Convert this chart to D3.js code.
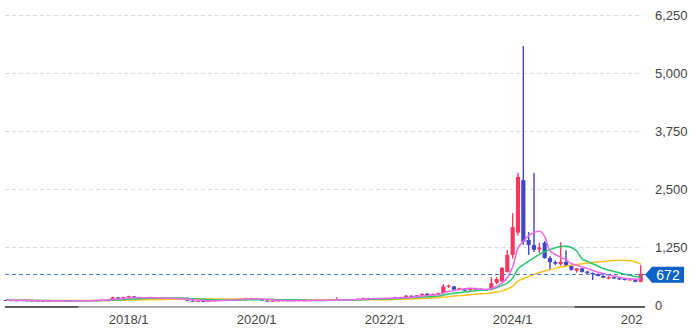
<!DOCTYPE html>
<html>
<head>
<meta charset="utf-8">
<script src="https://cdn.jsdelivr.net/npm/d3@7"></script>
<style>
  body { margin: 0; background: #fff; }
  text { font-family: Arial, "Liberation Sans", sans-serif; }
</style>
</head>
<body>
<svg id="chart" width="697" height="332"></svg>
<script>
// --- Data (monthly candles, 2016/2 .. 2026/1) ---
const months = d3.timeMonth.range(new Date(2016, 1, 1), new Date(2026, 1, 1));

const open = [
  108, 105, 100, 98, 102, 96, 92, 90, 88, 86, 88,
  90, 88, 90, 92, 94, 96, 105, 110, 115, 122, 162, 138,
  168, 185, 150, 145, 150, 155, 150, 145, 140, 135, 130, 124,
  95, 80, 85, 82, 90, 100, 110, 115, 120, 125, 140, 150,
  145, 120, 95, 80, 90, 95, 100, 98, 102, 100, 98, 100,
  105, 105, 108, 110, 115, 110, 112, 120, 135, 150, 145, 150,
  138, 140, 150, 172, 165, 200, 180, 210, 245, 215, 240, 255,
  395, 400, 330, 355, 315, 340, 350, 335, 330, 480, 510, 710,
  1080, 1560, 2690, 1400, 1290, 1200, 1340, 1010, 925, 880, 930, 850,
  740, 790, 720, 690, 670, 625, 570, 600, 575, 560, 540, 560,
  500
];
const high = [
  112, 108, 104, 106, 104, 98, 94, 92, 90, 92, 94,
  93, 94, 95, 97, 99, 110, 115, 120, 126, 178, 168, 176,
  200, 188, 158, 160, 162, 158, 153, 148, 145, 138, 134, 126,
  98, 90, 88, 95, 104, 114, 120, 124, 130, 146, 158, 156,
  148, 124, 98, 95, 100, 106, 104, 106, 105, 103, 104, 108,
  110, 112, 114, 165, 118, 116, 125, 140, 158, 155, 156, 153,
  146, 155, 178, 176, 215, 205, 216, 250, 250, 246, 262, 450,
  440, 410, 375, 365, 370, 365, 358, 345, 600, 600, 820, 1180,
  1980, 2845, 5580, 1570, 2845, 1340, 1380, 1050, 960, 1350, 1180, 870,
  800, 800, 740, 700, 680, 640, 620, 610, 590, 575, 560, 570,
  860
];
const low = [
  100, 96, 95, 96, 92, 90, 88, 86, 84, 84, 86,
  86, 86, 88, 89, 91, 94, 102, 106, 112, 118, 128, 132,
  160, 140, 138, 142, 146, 145, 140, 136, 132, 126, 120, 88,
  72, 78, 78, 80, 88, 96, 106, 110, 116, 122, 136, 140,
  115, 90, 70, 78, 88, 92, 94, 96, 97, 95, 96, 98,
  101, 103, 105, 108, 106, 107, 110, 118, 132, 140, 142, 136,
  132, 136, 146, 160, 160, 175, 176, 205, 210, 210, 232, 248,
  370, 320, 320, 300, 305, 330, 325, 315, 320, 450, 490, 700,
  1000, 1500, 1300, 1080, 1140, 1120, 1000, 760, 860, 850, 820, 740,
  700, 700, 660, 540, 620, 580, 555, 560, 540, 530, 530, 490,
  490
];
const close = [
  105, 100, 98, 102, 96, 92, 90, 88, 86, 88, 90,
  88, 90, 92, 94, 96, 105, 110, 115, 120, 165, 135, 170,
  190, 150, 145, 150, 155, 150, 145, 140, 135, 130, 125, 95,
  80, 85, 82, 90, 100, 110, 115, 120, 125, 140, 150, 145,
  120, 95, 80, 90, 95, 100, 98, 102, 100, 98, 100, 105,
  105, 108, 110, 115, 110, 112, 120, 135, 150, 145, 150, 140,
  140, 150, 172, 165, 200, 180, 210, 240, 215, 240, 255, 400,
  420, 330, 360, 310, 360, 350, 330, 320, 470, 560, 800, 1080,
  1680, 2760, 1360, 1290, 1190, 1240, 1010, 925, 890, 930, 850, 760,
  790, 715, 690, 665, 625, 590, 600, 570, 550, 540, 550, 500,
  672
];

// moving averages (6 / 12 / 24 month)
const ma6 = [
  104, 103, 102, 101, 100, 99, 96, 94, 92, 90, 89,
  88, 88, 89, 90, 92, 94, 98, 102, 107, 119, 125, 136,
  149, 155, 159, 157, 160, 157, 149, 148, 146, 143, 138, 128,
  118, 108, 100, 93, 89, 91, 97, 103, 110, 118, 127, 133,
  133, 129, 122, 113, 104, 97, 93, 94, 98, 99, 100, 101,
  102, 103, 104, 107, 109, 110, 113, 117, 124, 129, 135, 140,
  143, 146, 150, 153, 161, 168, 180, 195, 202, 214, 223, 260,
  295, 310, 334, 346, 363, 355, 340, 338, 357, 398, 472, 593,
  818, 1225, 1373, 1495, 1560, 1587, 1475, 1169, 1091, 1031, 974, 894,
  857, 822, 789, 745, 707, 679, 647, 623, 600, 579, 567, 552,
  564
];
const ma12 = [
  100, 100, 100, 100, 99, 98, 97, 96, 95, 94, 94,
  94, 92, 92, 91, 91, 92, 93, 95, 98, 104, 108, 115,
  124, 129, 133, 138, 143, 146, 149, 151, 153, 150, 149, 143,
  133, 128, 123, 118, 113, 110, 107, 106, 105, 106, 108, 112,
  115, 116, 116, 116, 115, 115, 113, 112, 110, 106, 102, 99,
  97, 98, 101, 103, 104, 105, 107, 110, 114, 118, 122, 125,
  128, 131, 137, 141, 148, 154, 161, 170, 176, 184, 192, 214,
  237, 252, 268, 280, 293, 308, 318, 324, 345, 372, 418, 474,
  579, 782, 865, 947, 1016, 1090, 1147, 1197, 1232, 1263, 1267, 1240,
  1166, 996, 940, 888, 841, 787, 753, 723, 695, 662, 637, 615,
  606
];
const ma24 = [
  102, 102, 101, 101, 100, 100, 99, 99, 98, 98, 97,
  97, 96, 96, 96, 96, 96, 96, 97, 98, 100, 102, 105,
  109, 110, 112, 115, 117, 119, 121, 123, 125, 127, 129, 129,
  128, 128, 128, 128, 128, 128, 128, 128, 129, 128, 128, 127,
  124, 122, 119, 117, 114, 112, 110, 109, 107, 106, 105, 105,
  106, 107, 108, 109, 110, 110, 110, 111, 112, 112, 112, 112,
  113, 115, 119, 122, 126, 130, 134, 140, 145, 151, 157, 170,
  183, 192, 202, 210, 221, 231, 240, 247, 261, 278, 305, 344,
  408, 517, 567, 613, 655, 699, 732, 761, 789, 818, 842, 857,
  873, 889, 903, 917, 928, 938, 950, 960, 963, 963, 952, 928,
  886
];

const yTicks = [0, 1250, 2500, 3750, 5000, 6250];
const xTickLabels = ['2018/1', '2020/1', '2022/1', '2024/1', '2026/1'];
const lastPrice = 672;

// --- Setup ---
const UP = '#f7375f', DOWN = '#4046c6';
const maColors = ['#ee66ee', '#22cc6e', '#ffc21a'];

const key = d => `${d.getFullYear()}/${d.getMonth() + 1}`;
const keys = months.map(key);

const svg = d3.select('#chart');
const left = 5, right = 645;

const x = d3.scaleBand()
  .domain(keys)
  .range([3.33, 643.33])
  .paddingInner(0.22)
  .paddingOuter(0.11);
const cx = i => x(keys[i]) + x.bandwidth() / 2;

const y = d3.scaleLinear().domain([0, 6250]).range([305, 15]);

svg.append('clipPath').attr('id', 'plot-clip')
  .append('rect').attr('x', left - 2).attr('y', 0).attr('width', right - left + 2).attr('height', 306);
// axis clip is in the axis group's own (translated) coordinates
svg.append('clipPath').attr('id', 'axis-clip')
  .append('rect').attr('x', 0).attr('y', 0).attr('width', 643).attr('height', 26);

// grid lines
svg.append('g').selectAll('line')
  .data(yTicks.filter(d => d > 0))
  .join('line')
  .attr('x1', left).attr('x2', right - 2)
  .attr('y1', d => Math.round(y(d)) + 0.5).attr('y2', d => Math.round(y(d)) + 0.5)
  .attr('stroke', '#dcdcdc')
  .attr('stroke-dasharray', '4,3');

// y axis labels (right)
const yAxis = svg.append('g')
  .attr('transform', 'translate(655,0)')
  .call(d3.axisRight(y).tickValues(yTicks).tickSize(0).tickPadding(0).tickFormat(d3.format(',')));
yAxis.select('.domain').remove();
yAxis.selectAll('text').attr('font-size', 13).attr('fill', '#444')
  .attr('font-family', 'Arial, "Liberation Sans", sans-serif');

// bottom line
const bottom = svg.append('g');
bottom.append('rect').attr('x', left).attr('y', 306).attr('width', right - left).attr('height', 1.8).attr('fill', '#a8a8a8');
bottom.append('rect').attr('x', left).attr('y', 306).attr('width', cx(13) - left + 3).attr('height', 1.8).attr('fill', '#555');
bottom.append('rect').attr('x', cx(107) - 2).attr('y', 306).attr('width', right - cx(107) + 2).attr('height', 1.8).attr('fill', '#555');

// x axis labels
const xAxis = svg.append('g')
  .attr('transform', 'translate(0,306)')
  .attr('clip-path', 'url(#axis-clip)')
  .call(d3.axisBottom(x).tickValues(xTickLabels).tickSize(0).tickPadding(8.5));
xAxis.select('.domain').remove();
xAxis.selectAll('text').attr('font-size', 13).attr('fill', '#444')
  .attr('font-family', 'Arial, "Liberation Sans", sans-serif');

// candles
const plot = svg.append('g').attr('clip-path', 'url(#plot-clip)');
const idx = d3.range(keys.length);
const candles = plot.append('g').selectAll('g')
  .data(idx)
  .join('g');

candles.append('line')
  .attr('x1', i => cx(i)).attr('x2', i => cx(i))
  .attr('y1', i => y(high[i])).attr('y2', i => y(low[i]))
  .attr('stroke', i => close[i] >= open[i] ? UP : DOWN)
  .attr('stroke-width', 1.4);

candles.append('rect')
  .attr('x', i => x(keys[i]))
  .attr('width', x.bandwidth())
  .attr('y', i => y(Math.max(open[i], close[i])))
  .attr('height', i => Math.max(1, Math.abs(y(open[i]) - y(close[i]))))
  .attr('fill', i => close[i] >= open[i] ? UP : DOWN);

// moving averages
const line = d3.line()
  .x(i => cx(i))
  .curve(d3.curveMonotoneX);
[ma24, ma12, ma6].forEach((arr, k) => {
  plot.append('path')
    .datum(idx)
    .attr('fill', 'none')
    .attr('stroke', maColors[2 - k])
    .attr('stroke-width', 1.5)
    .attr('d', line.y(i => y(arr[i])));
});

// last price line + tag
const py = y(lastPrice);
svg.append('line')
  .attr('x1', left).attr('x2', right)
  .attr('y1', Math.round(py) + 0.5).attr('y2', Math.round(py) + 0.5)
  .attr('stroke', '#3f80d6')
  .attr('stroke-dasharray', '4,3');

const tag = svg.append('g').attr('transform', `translate(0,${py + 1})`);
tag.append('path')
  .attr('d', 'M645,0 L652,-8 L684,-8 L684,8 L652,8 Z')
  .attr('fill', '#0b62c8');
tag.append('text')
  .attr('x', 668).attr('y', 0).attr('dy', '0.36em')
  .attr('text-anchor', 'middle')
  .attr('font-size', 14)
  .attr('fill', '#fff')
  .text(d3.format(',')(lastPrice));
</script>
</body>
</html>
